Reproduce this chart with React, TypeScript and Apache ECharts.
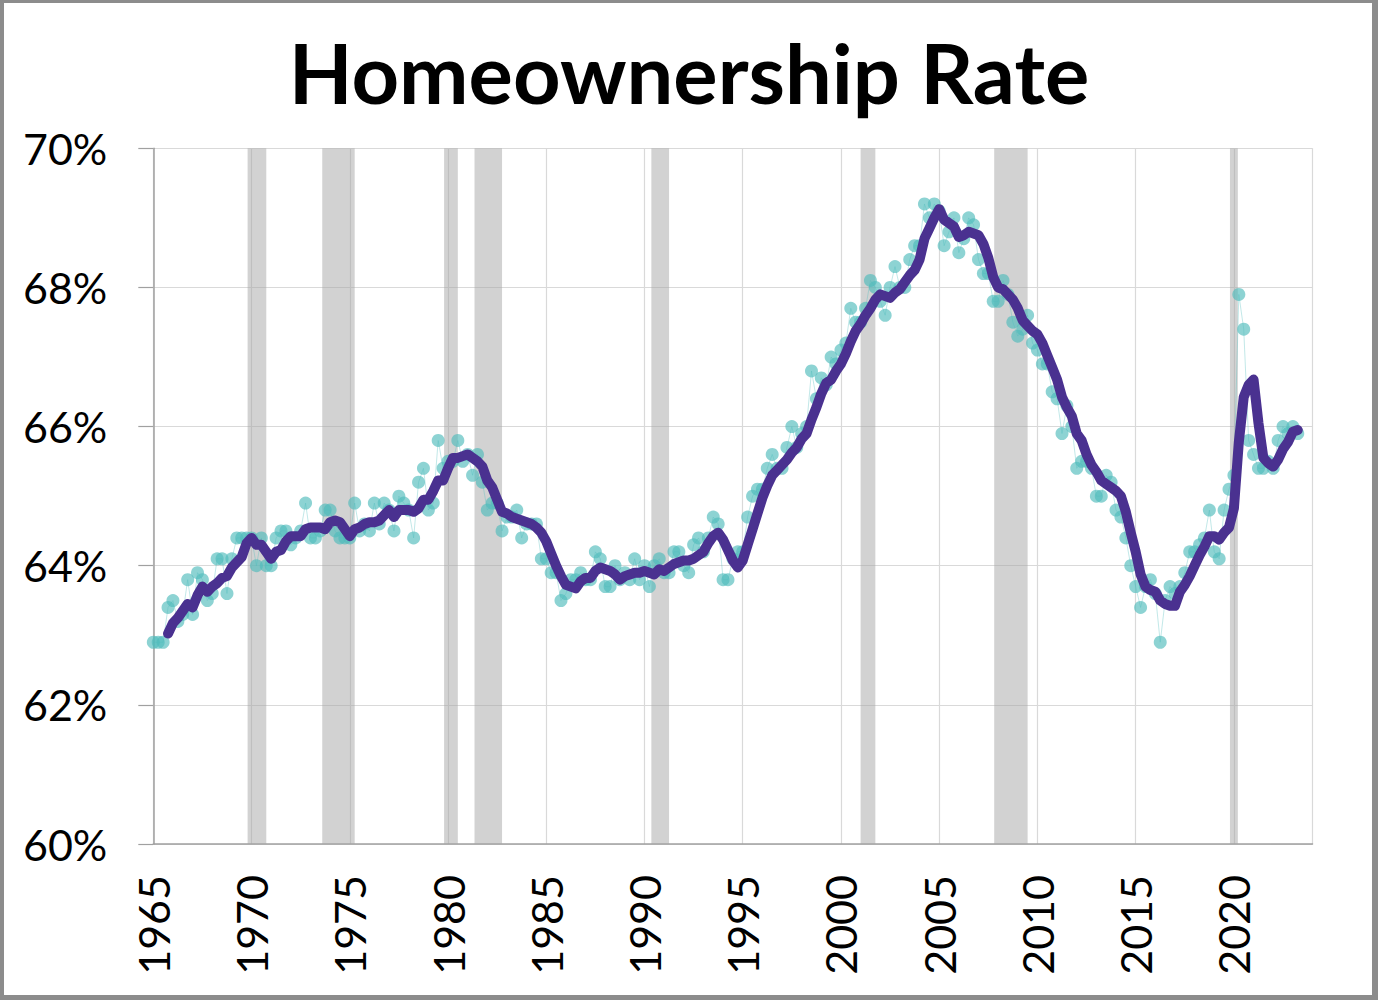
import React, { useEffect, useRef } from "react";
import * as echarts from "echarts";

// Quarterly homeownership rate (%), starting 1965 Q1
const START_YEAR = 1965;
const homeownershipRate = [
  62.9, 62.9, 62.9, 63.4,
  63.5, 63.2, 63.3, 63.8,
  63.3, 63.9, 63.8, 63.5,
  63.6, 64.1, 64.1, 63.6,
  64.1, 64.4, 64.4, 64.4,
  64.4, 64.0, 64.4, 64.0,
  64.0, 64.4, 64.5, 64.5,
  64.3, 64.4, 64.5, 64.9,
  64.4, 64.4, 64.5, 64.8,
  64.8, 64.5, 64.4, 64.4,
  64.4, 64.9, 64.5, 64.6,
  64.5, 64.9, 64.6, 64.9,
  64.8, 64.5, 65.0, 64.9,
  64.8, 64.4, 65.2, 65.4,
  64.8, 64.9, 65.8, 65.4,
  65.5, 65.5, 65.8, 65.5,
  65.6, 65.3, 65.6, 65.2,
  64.8, 64.9, 64.9, 64.5,
  64.7, 64.7, 64.8, 64.4,
  64.6, 64.6, 64.6, 64.1,
  64.1, 63.9, 63.9, 63.5,
  63.6, 63.8, 63.8, 63.9,
  63.8, 63.8, 64.2, 64.1,
  63.7, 63.7, 64.0, 63.8,
  63.9, 63.8, 64.1, 63.8,
  64.0, 63.7, 64.0, 64.1,
  63.9, 63.9, 64.2, 64.2,
  64.0, 63.9, 64.3, 64.4,
  64.2, 64.4, 64.7, 64.6,
  63.8, 63.8, 64.1, 64.2,
  64.2, 64.7, 65.0, 65.1,
  65.1, 65.4, 65.6, 65.4,
  65.4, 65.7, 66.0, 65.7,
  65.9, 66.0, 66.8, 66.4,
  66.7, 66.6, 67.0, 66.9,
  67.1, 67.2, 67.7, 67.5,
  67.5, 67.7, 68.1, 68.0,
  67.8, 67.6, 68.0, 68.3,
  68.0, 68.0, 68.4, 68.6,
  68.6, 69.2, 69.0, 69.2,
  69.1, 68.6, 68.8, 69.0,
  68.5, 68.7, 69.0, 68.9,
  68.4, 68.2, 68.2, 67.8,
  67.8, 68.1, 67.9, 67.5,
  67.3, 67.4, 67.6, 67.2,
  67.1, 66.9, 66.9, 66.5,
  66.4, 65.9, 66.3, 66.0,
  65.4, 65.5, 65.5, 65.4,
  65.0, 65.0, 65.3, 65.2,
  64.8, 64.7, 64.4, 64.0,
  63.7, 63.4, 63.7, 63.8,
  63.6, 62.9, 63.5, 63.7,
  63.6, 63.7, 63.9, 64.2,
  64.2, 64.3, 64.4, 64.8,
  64.2, 64.1, 64.8, 65.1,
  65.3, 67.9, 67.4, 65.8,
  65.6, 65.4, 65.4, 65.5,
  65.4, 65.8, 66.0, 65.9,
  66.0, 65.9,
];

// Four-quarter moving average (%), starting 1965 Q4
const AVG_START_YEAR = 1965.75;
const movingAverage = [
  63.025,
  63.175, 63.25, 63.35, 63.45,
  63.4, 63.575, 63.7, 63.625,
  63.7, 63.75, 63.825, 63.85,
  63.975, 64.05, 64.125, 64.325,
  64.4, 64.3, 64.3, 64.2,
  64.1, 64.2, 64.225, 64.35,
  64.425, 64.425, 64.425, 64.525,
  64.55, 64.55, 64.55, 64.525,
  64.625, 64.65, 64.625, 64.525,
  64.425, 64.525, 64.55, 64.6,
  64.625, 64.625, 64.65, 64.725,
  64.8, 64.7, 64.8, 64.8,
  64.8, 64.775, 64.825, 64.95,
  64.95, 65.075, 65.225, 65.225,
  65.4, 65.55, 65.55, 65.575,
  65.6, 65.55, 65.5, 65.425,
  65.225, 65.125, 64.95, 64.775,
  64.75, 64.7, 64.675, 64.65,
  64.625, 64.6, 64.55, 64.475,
  64.35, 64.175, 64.0, 63.85,
  63.725, 63.7, 63.675, 63.775,
  63.825, 63.825, 63.925, 63.975,
  63.95, 63.925, 63.875, 63.8,
  63.85, 63.875, 63.9, 63.9,
  63.925, 63.9, 63.875, 63.95,
  63.925, 63.975, 64.025, 64.05,
  64.075, 64.075, 64.1, 64.15,
  64.2, 64.325, 64.425, 64.475,
  64.375, 64.225, 64.075, 63.975,
  64.075, 64.3, 64.525, 64.75,
  64.975, 65.15, 65.3, 65.375,
  65.45, 65.525, 65.625, 65.7,
  65.825, 65.9, 66.1, 66.275,
  66.475, 66.625, 66.675, 66.8,
  66.9, 67.05, 67.225, 67.375,
  67.475, 67.6, 67.7, 67.825,
  67.9, 67.875, 67.85, 67.925,
  67.975, 68.075, 68.175, 68.25,
  68.4, 68.7, 68.85, 69.0,
  69.125, 68.975, 68.925, 68.875,
  68.725, 68.75, 68.8, 68.775,
  68.75, 68.625, 68.425, 68.15,
  68.0, 67.975, 67.9, 67.825,
  67.7, 67.525, 67.45, 67.375,
  67.325, 67.2, 67.025, 66.85,
  66.675, 66.425, 66.275, 66.15,
  65.9, 65.8, 65.6, 65.45,
  65.35, 65.225, 65.175, 65.125,
  65.075, 65.0, 64.775, 64.475,
  64.2, 63.875, 63.7, 63.65,
  63.625, 63.5, 63.45, 63.425,
  63.425, 63.625, 63.725, 63.85,
  64.0, 64.15, 64.275, 64.425,
  64.425, 64.375, 64.475, 64.55,
  64.825, 65.775, 66.425, 66.6,
  66.675, 66.05, 65.55, 65.475,
  65.425, 65.525, 65.675, 65.775,
  65.925, 65.95,
];

// Recession shading (fractional years)
const recessionStart = [1969.8, 1973.6, 1979.8, 1981.35, 1990.35, 2001.0, 2007.8, 2019.8];
const recessionEnd = [1970.75, 1975.25, 1980.5, 1982.75, 1991.25, 2001.75, 2009.5, 2020.2];

const X_MIN = 1965;
const X_MAX = 2024;
const Y_MIN = 60;
const Y_MAX = 70;

const FONT = "Lato, 'Open Sans', sans-serif";

export default function App() {
  const ref = useRef<HTMLDivElement>(null);

  useEffect(() => {
    if (!ref.current) return;
    const chart = echarts.init(ref.current, undefined, { renderer: "svg" });

    const rateData = homeownershipRate.map((v, i) => [START_YEAR + i / 4, v]);
    const avgData = movingAverage.map((v, i) => [AVG_START_YEAR + i / 4, v]);
    const areas = recessionStart.map((s, i) => [{ xAxis: s }, { xAxis: recessionEnd[i] }]);

    const W = 1378;
    const H = 1000;
    const borderColor = "#8c8c8c";

    chart.setOption({
      animation: false,
      backgroundColor: "#ffffff",
      textStyle: { fontFamily: FONT },
      title: {
        text: "Homeownership Rate",
        left: "center",
        top: 25,
        textStyle: {
          fontFamily: FONT,
          fontSize: 83,
          fontWeight: "bold",
          color: "#000000",
        },
      },
      grid: {
        left: 153.3,
        right: W - 1312.5,
        top: 148.3,
        bottom: H - 844,
        containLabel: false,
      },
      xAxis: {
        type: "value",
        min: X_MIN,
        max: X_MAX,
        interval: 5,
        axisLine: { show: true, lineStyle: { color: "#a0a0a0", width: 1.5 } },
        axisTick: { show: false },
        splitLine: { show: true, lineStyle: { color: "#d9d9d9", width: 1.2 } },
        axisLabel: {
          rotate: 90,
          margin: 31,
          fontSize: 43,
          fontFamily: FONT,
          color: "#000000",
          showMaxLabel: false,
          formatter: (v: number) => String(v),
        },
      },
      yAxis: {
        type: "value",
        min: Y_MIN,
        max: Y_MAX,
        interval: 2,
        axisLine: { show: true, lineStyle: { color: "#a0a0a0", width: 1.5 } },
        axisTick: { show: true, length: 15, lineStyle: { color: "#a0a0a0", width: 1.2 } },
        splitLine: { show: true, lineStyle: { color: "#d9d9d9", width: 1.2 } },
        axisLabel: {
          margin: 46,
          fontSize: 43,
          fontFamily: FONT,
          color: "#000000",
          formatter: "{value}%",
        },
      },
      series: [
        {
          name: "Recessions",
          type: "line",
          data: [],
          z: 1,
          silent: true,
          markArea: {
            silent: true,
            itemStyle: { color: "rgba(166,166,166,0.5)" },
            data: areas,
          },
        },
        {
          name: "Quarterly",
          type: "line",
          data: rateData,
          z: 3,
          symbol: "circle",
          symbolSize: 13,
          showAllSymbol: true,
          itemStyle: { color: "rgba(80,188,188,0.65)", borderWidth: 0 },
          lineStyle: { color: "rgba(80,188,188,0.35)", width: 1 },
        },
        {
          name: "Moving average",
          type: "line",
          data: avgData,
          z: 4,
          symbol: "none",
          lineStyle: { color: "#4a3190", width: 10, cap: "round", join: "round" },
        },
      ],
      graphic: [
        { type: "rect", shape: { x: 0, y: 0, width: W, height: 3 }, style: { fill: borderColor }, z: 100 },
        { type: "rect", shape: { x: 0, y: 0, width: 4, height: H }, style: { fill: borderColor }, z: 100 },
        { type: "rect", shape: { x: W - 6, y: 0, width: 6, height: H }, style: { fill: borderColor }, z: 100 },
        { type: "rect", shape: { x: 0, y: H - 5, width: W, height: 5 }, style: { fill: borderColor }, z: 100 },
      ],
    });

    return () => chart.dispose();
  }, []);

  return (
    <div
      ref={ref}
      style={{ position: "absolute", left: 0, top: 0, width: 1378, height: 1000 }}
    />
  );
}
